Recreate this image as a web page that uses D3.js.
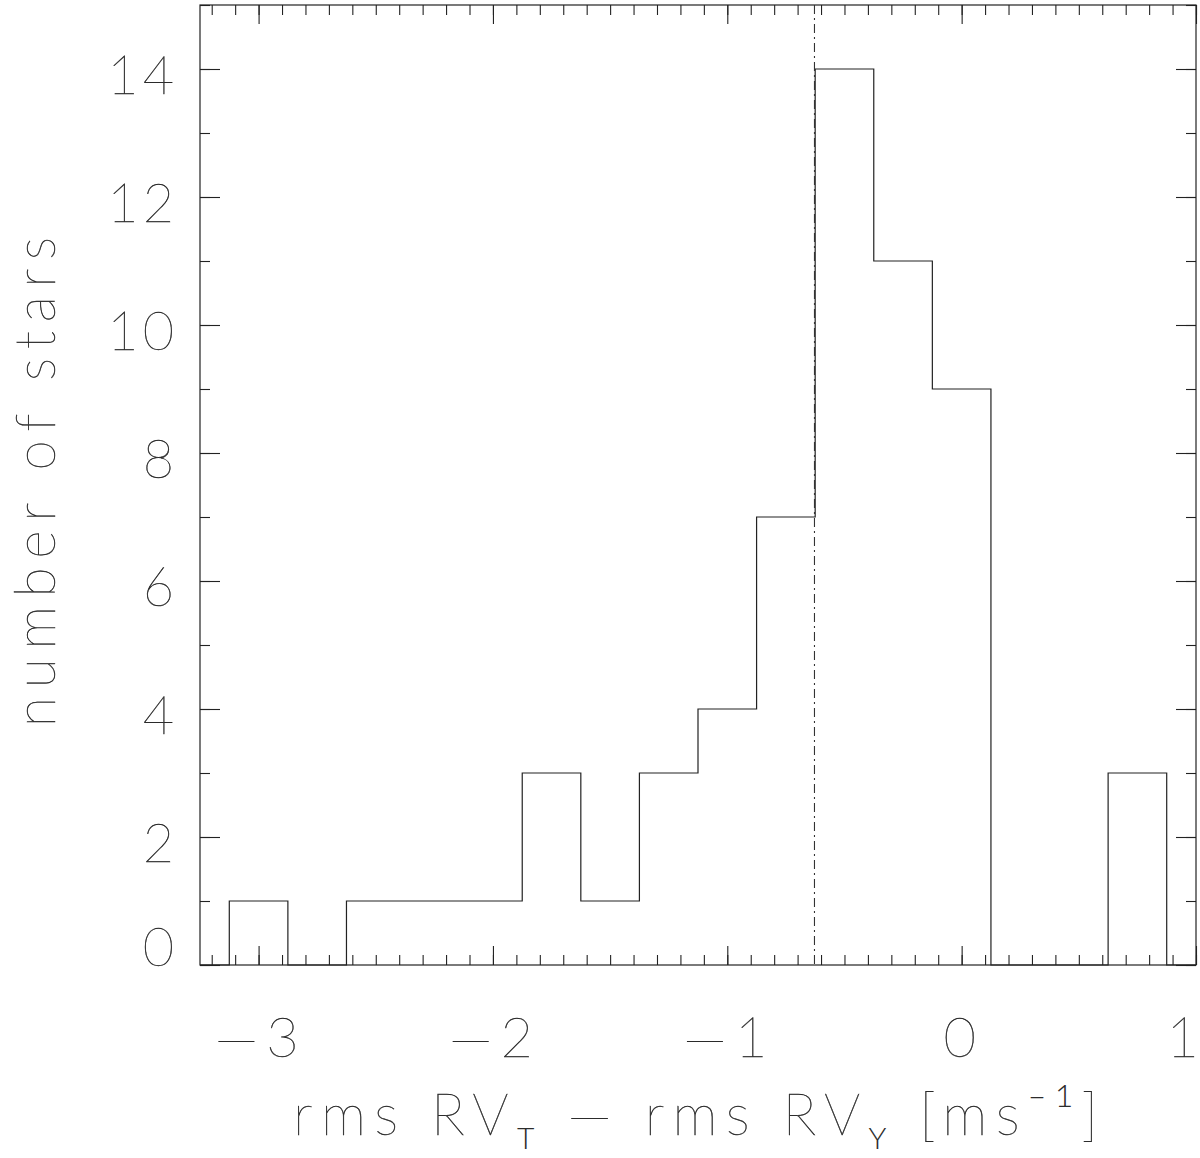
<!DOCTYPE html>
<html>
<head>
<meta charset="utf-8">
<script src="https://cdn.jsdelivr.net/npm/d3@7"></script>
<style>
  html, body { margin: 0; padding: 0; background: #fff; }
  svg { display: block; }
  text { font-family: "Lato", "Roboto", sans-serif; font-weight: 100; fill: #2a2a2a; stroke: #2a2a2a; stroke-width: 0.45px; }
  .small { font-weight: 300; stroke-width: 0; }
</style>
</head>
<body>
<svg></svg>
<script>
// 畫布尺寸
const width = 1200;
const height = 1158;

// 直方圖資料
const binEdges = [-3.125, -2.875, -2.625, -2.375, -2.125, -1.875, -1.625, -1.375, -1.125,
  -0.875, -0.625, -0.375, -0.125, 0.125, 0.375, 0.625, 0.875];
const counts = [1, 0, 1, 1, 1, 3, 1, 3, 4, 7, 14, 11, 9, 0, 0, 3];
const medianLine = -0.628;

// 刻度
const xMajor = [-3, -2, -1, 0, 1];
const xLabels = ["—3", "—2", "—1", "0", "1"];
const yMajor = [0, 2, 4, 6, 8, 10, 12, 14];
const yLabels = ["0", "2", "4", "6", "8", "10", "12", "14"];
const xDomain = [-3.25, 1.0];
const yDomain = [0, 15];

const svg = d3.select("svg")
  .attr("width", width)
  .attr("height", height);

const x = d3.scaleLinear().domain(xDomain).range([200, 1196]);
const y = d3.scaleLinear().domain(yDomain).range([965, 5]);

const xMinor = d3.range(-32, 11).map(d => d / 10);
const yMinor = d3.range(0, 16);

const lineColor = "#222";

// 刻度線 (四邊都有)
function ticks(axis, transform) {
  const g = svg.append("g").attr("transform", transform).call(axis);
  g.select(".domain").remove();
  g.selectAll("line").attr("stroke", lineColor).attr("stroke-width", 1.1);
  g.selectAll("text").remove();
}

ticks(d3.axisBottom(x).tickValues(xMinor).tickSizeInner(-10).tickSizeOuter(0), `translate(0,${y(0)})`);
ticks(d3.axisBottom(x).tickValues(xMajor).tickSizeInner(-19).tickSizeOuter(0), `translate(0,${y(0)})`);
ticks(d3.axisTop(x).tickValues(xMinor).tickSizeInner(-10).tickSizeOuter(0), `translate(0,${y(15)})`);
ticks(d3.axisTop(x).tickValues(xMajor).tickSizeInner(-19).tickSizeOuter(0), `translate(0,${y(15)})`);
ticks(d3.axisLeft(y).tickValues(yMinor).tickSizeInner(-10).tickSizeOuter(0), `translate(${x(-3.25)},0)`);
ticks(d3.axisLeft(y).tickValues(yMajor).tickSizeInner(-20).tickSizeOuter(0), `translate(${x(-3.25)},0)`);
ticks(d3.axisRight(y).tickValues(yMinor).tickSizeInner(-10).tickSizeOuter(0), `translate(${x(1)},0)`);
ticks(d3.axisRight(y).tickValues(yMajor).tickSizeInner(-20).tickSizeOuter(0), `translate(${x(1)},0)`);

// 外框
svg.append("rect")
  .attr("x", x(xDomain[0]))
  .attr("y", y(yDomain[1]))
  .attr("width", x(xDomain[1]) - x(xDomain[0]))
  .attr("height", y(yDomain[0]) - y(yDomain[1]))
  .attr("fill", "none")
  .attr("stroke", lineColor)
  .attr("stroke-width", 1.2);

// 直方圖階梯線
const pts = [[xDomain[0], 0]];
counts.forEach((c, i) => pts.push([binEdges[i], c]));
pts.push([binEdges[binEdges.length - 1], 0]);
pts.push([xDomain[1], 0]);

const line = d3.line()
  .x(d => x(d[0]))
  .y(d => y(d[1]))
  .curve(d3.curveStepAfter);

svg.append("path")
  .attr("d", line(pts))
  .attr("fill", "none")
  .attr("stroke", lineColor)
  .attr("stroke-width", 1.2);

// 點劃線
svg.append("line")
  .attr("x1", x(medianLine)).attr("x2", x(medianLine))
  .attr("y1", y(yDomain[1])).attr("y2", y(yDomain[0]))
  .attr("stroke", "#333")
  .attr("stroke-width", 1.1)
  .attr("stroke-dasharray", "9,4,2,4");

// 刻度標籤
svg.append("g").selectAll("text")
  .data(xMajor)
  .join("text")
  .attr("x", (d, i) => i === xMajor.length - 1 ? 1199 : x(d) + 2)
  .attr("y", 1057)
  .attr("text-anchor", (d, i) => i === xMajor.length - 1 ? "end" : "middle")
  .attr("font-size", 56)
  .attr("letter-spacing", (d, i) => i === xMajor.length - 1 ? 0 : 8)
  .text((d, i) => xLabels[i]);

svg.append("g").selectAll("text")
  .data(yMajor)
  .join("text")
  .attr("x", 178)
  .attr("y", d => d === 0 ? y(d) + 1 : y(d) + 25)
  .attr("text-anchor", "end")
  .attr("font-size", 54)
  .attr("letter-spacing", 4)
  .text((d, i) => yLabels[i]);

// 軸標題
svg.append("text")
  .attr("transform", "translate(55,482) rotate(-90)")
  .attr("text-anchor", "middle")
  .attr("font-size", 55)
  .attr("textLength", 490)
  .attr("lengthAdjust", "spacing")
  .text("number of stars");

const xt = svg.append("text")
  .attr("x", 293)
  .attr("y", 1135)
  .attr("font-size", 57)
  .attr("textLength", 805)
  .attr("lengthAdjust", "spacing")
  .style("opacity", 0.99);
xt.append("tspan").text("rms RV");
xt.append("tspan").attr("class", "small").attr("font-size", 30).attr("dy", 14).text("T");
xt.append("tspan").attr("dy", -14).text(" — rms RV");
xt.append("tspan").attr("class", "small").attr("font-size", 30).attr("dy", 14).text("Y");
xt.append("tspan").attr("dy", -14).text(" [ms");
xt.append("tspan").attr("class", "small").attr("font-size", 32).attr("dy", -28).text("–1");
xt.append("tspan").attr("dy", 28).text("]");
</script>
</body>
</html>
